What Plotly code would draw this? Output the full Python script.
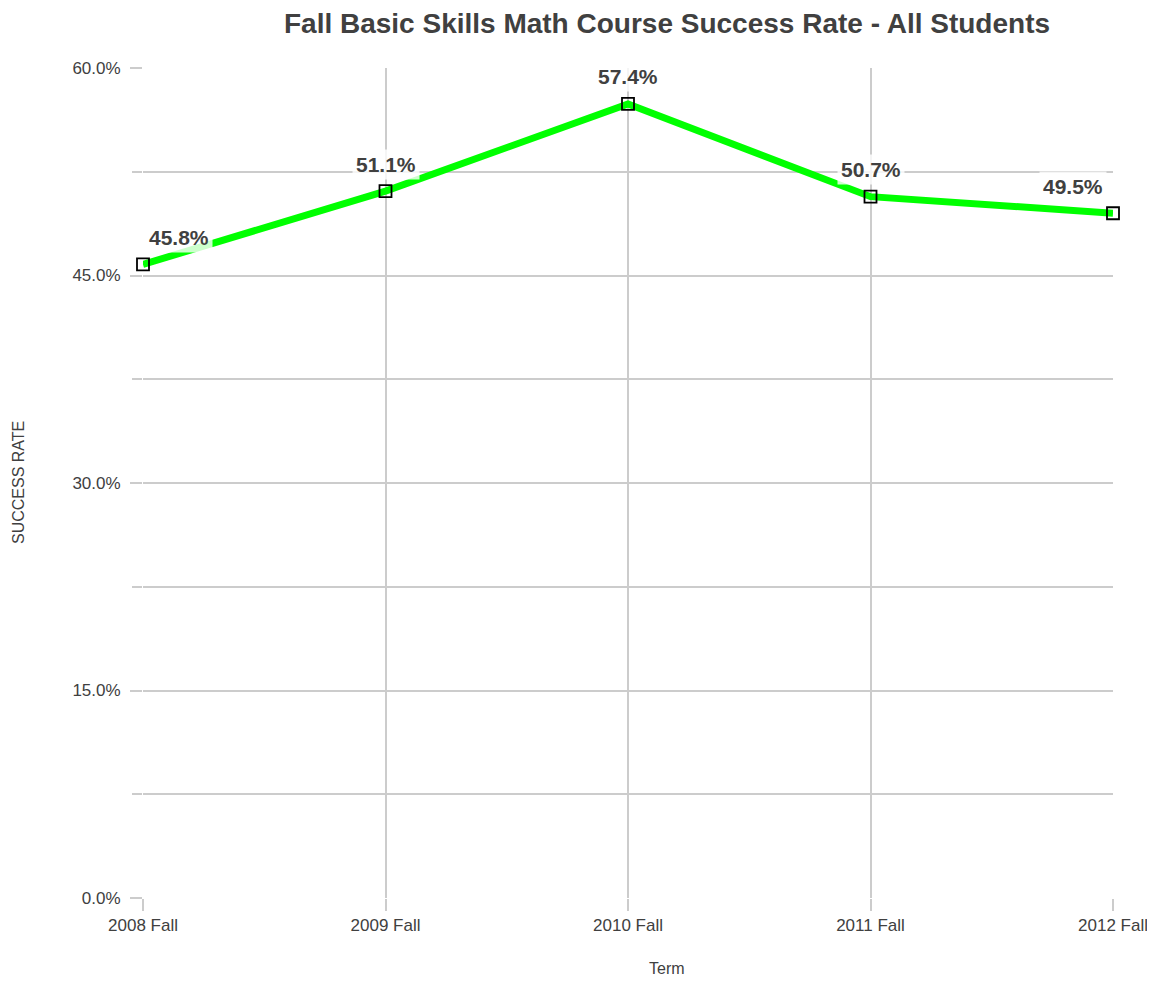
import plotly.graph_objects as go

terms = ["2008 Fall", "2009 Fall", "2010 Fall", "2011 Fall", "2012 Fall"]
success_rate = [0.458, 0.511, 0.574, 0.507, 0.495]
y_ticks = [0.0, 0.15, 0.30, 0.45, 0.60]

FONT = "Liberation Sans, Arial, sans-serif"
TXT = "#404040"
GRID = "#cccccc"

# page body has an 8px margin; work in figure pixels = screen pixels - 8
OFF = 8
W, H = 1155 - OFF, 981 - OFF
L, R, T, B = 143 - OFF, 1113 - OFF, 68 - OFF, 898 - OFF

fig = go.Figure()
fig.add_trace(go.Scatter(
    x=terms, y=success_rate, mode="lines+markers",
    line=dict(color="#00ff00", width=7),
    marker=dict(symbol="square-open", size=12, color="black", line=dict(width=1.8, color="black")),
    cliponaxis=False, showlegend=False,
))

n = len(terms)
for i, (t, v) in enumerate(zip(terms, success_rate)):
    if i == 0:
        xa, xs = "left", 2
    elif i == n - 1:
        xa, xs = "right", -6
    else:
        xa, xs = "center", 0
    fig.add_annotation(
        x=t, y=v, xref="x", yref="y", text=f"<b>{v*100:.1f}%</b>",
        showarrow=False, xanchor=xa, yanchor="middle", xshift=xs, yshift=27,
        font=dict(family=FONT, size=21, color=TXT),
        bgcolor="rgba(255,255,255,0.8)", borderpad=3,
    )

pw, ph = R - L, B - T
fig.update_layout(
    width=W, height=H,
    paper_bgcolor="white", plot_bgcolor="white",
    margin=dict(l=L, r=W - R, t=T, b=H - B, autoexpand=False),
    font=dict(family=FONT, color=TXT),
    title=dict(text="<b>Fall Basic Skills Math Course Success Rate - All Students</b>",
               x=(667 - OFF) / W, xanchor="center", y=1 - (23 - OFF) / H, yanchor="middle",
               font=dict(family=FONT, size=28, color=TXT)),
    xaxis=dict(
        type="category", range=[0, n - 1], automargin=False,
        showgrid=True, gridcolor=GRID, gridwidth=1.5,
        ticks="outside", ticklen=12, tickcolor=GRID, tickwidth=1.5,
        tickfont=dict(family=FONT, size=17, color=TXT),
        showline=False, zeroline=False,
    ),
    yaxis=dict(
        range=[0, 0.6], tickvals=y_ticks, tickformat=".1%", automargin=False,
        showgrid=True, gridcolor=GRID, gridwidth=1.5,
        ticks="outside", ticklen=12, tickcolor=GRID, tickwidth=1.5,
        ticklabelstandoff=6,
        tickfont=dict(family=FONT, size=17, color=TXT),
        showline=False, zeroline=False,
        minor=dict(dtick=0.075, showgrid=True, gridcolor=GRID, gridwidth=1.5,
                   ticks="outside", ticklen=10, tickcolor=GRID, tickwidth=1.5),
    ),
)

fig.add_annotation(text="Term", xref="paper", yref="paper",
                   x=(667 - OFF - L) / pw, y=(B - (968 - OFF)) / ph,
                   xanchor="center", yanchor="middle",
                   showarrow=False, font=dict(family=FONT, size=16, color=TXT))
fig.add_annotation(text="SUCCESS RATE", xref="paper", yref="paper",
                   x=(18 - OFF - L) / pw, y=(B - (483 - OFF)) / ph,
                   xanchor="center", yanchor="middle", textangle=-90,
                   showarrow=False, font=dict(family=FONT, size=16, color=TXT))

fig.write_html("out.html")
